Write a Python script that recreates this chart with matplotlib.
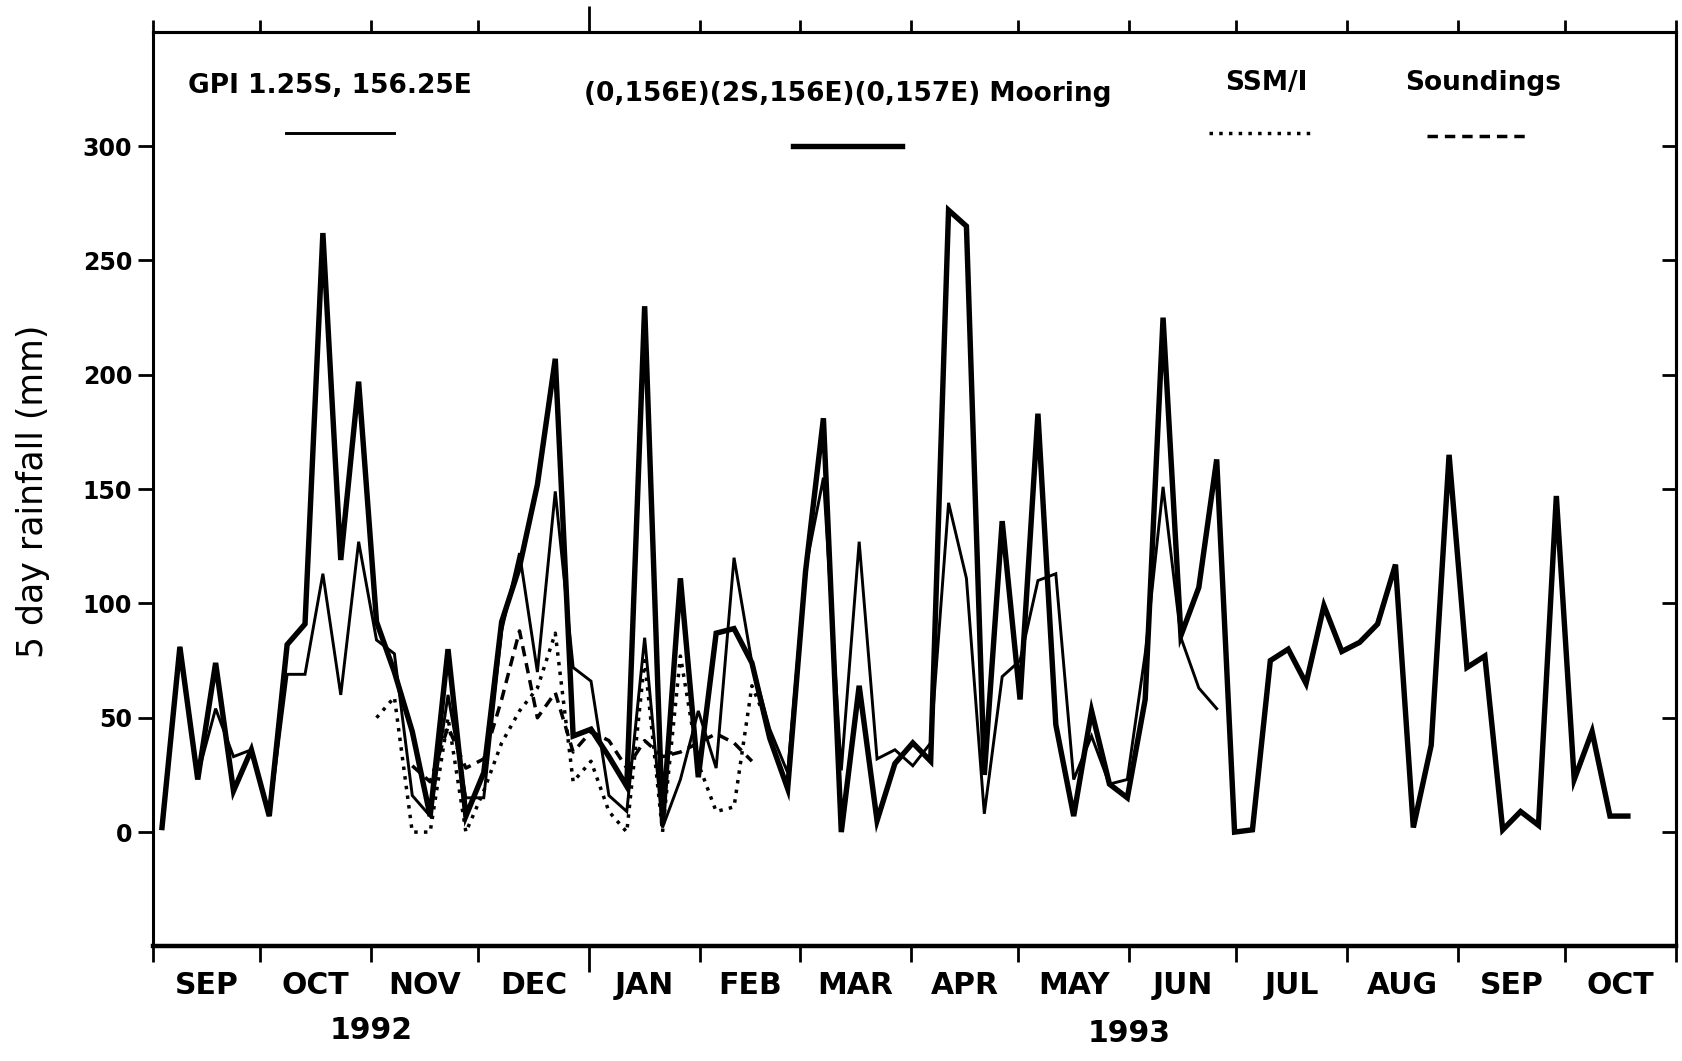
import numpy as np
import matplotlib
matplotlib.use('Agg')
import matplotlib.pyplot as plt
from matplotlib.lines import Line2D
from matplotlib.ticker import FixedLocator, NullFormatter

plt.rcParams['font.family'] = ['DejaVu Sans']

# 5 day rainfall (mm), one value per pentad counted from 1 Sep 1992
mooring = [2, 81, 23, 74, 18, 36, 7, 82, 91, 262,
           119, 197, 92, 70, 44, 7, 80, 7, 26, 92,
           116, 152, 207, 42, 45, 33, 20, 230, 4, 111,
           24, 87, 89, 74, 41, 19, 114, 181, 0, 64,
           5, 30, 39, 31, 272, 265, 25, 136, 58, 183,
           47, 7, 53, 21, 15, 58, 225, 86, 107, 163,
           0, 1, 75, 80, 65, 99, 79, 83, 91, 117,
           2, 38, 165, 72, 77, 1, 9, 3, 147, 23,
           44, 7, 7]
gpi = [2, 81, 25, 54, 33, 36, 7, 69, 69, 113,
       60, 127, 84, 78, 16, 7, 60, 15, 15, 88,
       122, 70, 149, 72, 66, 16, 9, 85, 2, 23,
       53, 28, 120, 74, 45, 26, 115, 155, 27, 127,
       32, 36, 29, 39, 144, 111, 8, 68, 75, 110,
       113, 23, 42, 21, 23, 78, 151, 85, 63, 54]
ssmi_first = 12
ssmi = [50, 59, 0, 0, 50, 0, 18, 39, 53, 63,
        87, 22, 31, 9, 0, 75, 0, 77, 30, 9,
        11, 64, 45]
soundings_first = 14
soundings = [29, 22, 46, 28, 32, 58, 88, 50, 61, 35,
             44, 40, 28, 40, 33, 35, 39, 43, 39, 31]

month_labels = ['SEP', 'OCT', 'NOV', 'DEC', 'JAN', 'FEB', 'MAR',
                'APR', 'MAY', 'JUN', 'JUL', 'AUG', 'SEP', 'OCT']
year_labels = ['1992', '1993']
legend_labels = ['GPI 1.25S, 156.25E', '(0,156E)(2S,156E)(0,157E) Mooring',
                 'SSM/I', 'Soundings']


def pentad_days(first, n):
    '''
    (int, int) -> np.array
    Day (from 1 Sep 1992) at the middle of each pentad.
    '''
    return 5.0 * (first + np.arange(n)) + 2.5


# Month boundaries in days from 1 Sep 1992
start = np.datetime64('1992-09-01')
months = np.arange(np.datetime64('1992-09'), np.datetime64('1993-12'),
                   dtype='datetime64[M]').astype('datetime64[D]')
month_days = (months - start).astype(int)
month_mid = (month_days[:-1] + month_days[1:]) / 2.0
jan = month_days[4]
other_days = [d for d in month_days if d != jan]

fig = plt.figure(figsize=(16.82, 10.61), dpi=100)
ax = fig.add_axes([0.091, 0.108, 0.9055, 0.862])

dotted = (0, (1, 1.8))
dashed = (0, (3.0, 2.0))
thick_lw = 3.9
thin_lw = 2.1
broken_lw = 2.5

ax.plot(pentad_days(0, len(mooring)), mooring, color='black', lw=thick_lw,
        solid_joinstyle='miter')
ax.plot(pentad_days(0, len(gpi)), gpi, color='black', lw=thin_lw,
        solid_joinstyle='miter')
ax.plot(pentad_days(ssmi_first, len(ssmi)), ssmi, color='black',
        lw=broken_lw, ls=dotted)
ax.plot(pentad_days(soundings_first, len(soundings)), soundings,
        color='black', lw=broken_lw, ls=dashed)

ax.set_xlim(month_days[0], month_days[-1])
ax.set_ylim(-50, 350)

# y axis: ticks out on the left, in on the right
ax.set_yticks(range(0, 301, 50))
ax.tick_params(axis='y', direction='out', length=11, width=2, pad=4,
               labelsize=17)
for lab in ax.get_yticklabels():
    lab.set_fontweight('bold')
right = ax.secondary_yaxis('right')
right.set_yticks(range(0, 301, 50))
right.tick_params(axis='y', direction='in', length=10, width=2,
                  labelright=False)

# x axis: month ticks, longer tick at the new year
ax.xaxis.set_major_locator(FixedLocator(other_days))
ax.xaxis.set_minor_locator(FixedLocator([jan]))
ax.xaxis.set_major_formatter(NullFormatter())
ax.tick_params(axis='x', which='major', direction='out', length=11.5, width=2)
ax.tick_params(axis='x', which='minor', direction='out', length=19, width=2)
top = ax.secondary_xaxis('top')
top.xaxis.set_major_locator(FixedLocator(other_days))
top.xaxis.set_minor_locator(FixedLocator([jan]))
top.xaxis.set_major_formatter(NullFormatter())
top.tick_params(axis='x', which='major', direction='out', length=9, width=2)
top.tick_params(axis='x', which='minor', direction='out', length=19, width=2)

for side in ['left', 'right', 'top']:
    ax.spines[side].set_linewidth(2.2)
ax.spines['bottom'].set_linewidth(3.2)
top.spines['top'].set_linewidth(2.2)
right.spines['right'].set_linewidth(2.2)

xt = ax.get_xaxis_transform()
for pos, lab in zip(month_mid, month_labels):
    ax.text(pos, -0.043, lab, transform=xt, ha='center', va='center',
            fontsize=21.5, fontweight='bold')
ax.text(month_days[2], -0.092, year_labels[0], transform=xt, ha='center',
        va='center', fontsize=21.5, fontweight='bold')
ax.text(month_days[9], -0.095, year_labels[1], transform=xt, ha='center',
        va='center', fontsize=21.5, fontweight='bold')

fig.text(0.0196, 0.537, '5 day rainfall (mm)', rotation=90, ha='center',
         va='center', fontsize=25)

# Legend: label above a short sample line
legend_text_pos = [(0.116, 0.941), (0.456, 0.932), (0.731, 0.944), (0.873, 0.944)]
legend_line_pos = [(0.087, 0.158, 0.889), (0.420, 0.492, 0.875),
                   (0.693, 0.762, 0.889), (0.8365, 0.903, 0.886)]
legend_styles = [dict(lw=thin_lw, ls='-'), dict(lw=thick_lw, ls='-'),
                 dict(lw=broken_lw, ls=dotted), dict(lw=broken_lw, ls=dashed)]
for lab, (tx, ty), (x0, x1, ly), st in zip(legend_labels, legend_text_pos,
                                           legend_line_pos, legend_styles):
    ax.text(tx, ty, lab, transform=ax.transAxes, ha='center', va='center',
            fontsize=19, fontweight='bold')
    ax.add_line(Line2D([x0, x1], [ly, ly], transform=ax.transAxes,
                       color='black', **st))

fig.savefig('out.png', dpi=100)
